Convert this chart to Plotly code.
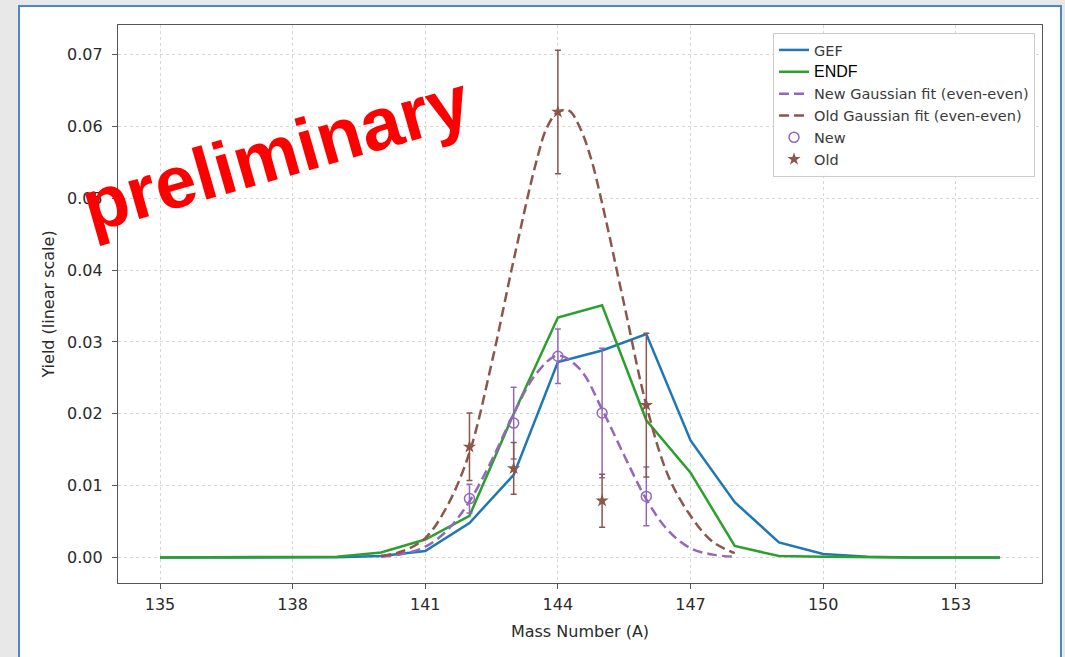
import plotly.graph_objects as go

# ---------------- data ----------------
mass = [135, 136, 137, 138, 139, 140, 141, 142, 143, 144,
        145, 146, 147, 148, 149, 150, 151, 152, 153, 154]
gef = [0, 0, 0, 0, 0.00002, 0.0002, 0.0009, 0.0048, 0.0115, 0.0272,
       0.0288, 0.0311, 0.0163, 0.0077, 0.0021, 0.0005, 0.0001, 0, 0, 0]
endf = [0, 0, 0, 0, 0.0001, 0.0007, 0.0025, 0.0058, 0.0200, 0.0334,
        0.0351, 0.0191, 0.0118, 0.0016, 0.0002, 0.0001, 0, 0, 0, 0]

new_fit_x = [140, 140.5, 141, 141.5, 142, 142.5, 143, 143.5, 144,
             144.5, 145, 145.5, 146, 146.5, 147, 147.5, 148]
new_fit = [0.0001, 0.0005, 0.0015, 0.0038, 0.0078, 0.0135, 0.0200, 0.0255, 0.0281,
           0.0262, 0.0206, 0.0142, 0.0081, 0.0037, 0.0013, 0.0004, 0.0001]
old_fit_x = [140, 140.5, 141, 141.5, 142, 142.5, 143, 143.5, 143.75, 144, 144.25,
             144.5, 144.75, 145, 145.5, 146, 146.5, 147, 147.5, 148]
old_fit = [0.0002, 0.0009, 0.0027, 0.0072, 0.0146, 0.0270, 0.0414, 0.0548, 0.0598, 0.0620, 0.0622,
           0.0598, 0.0555, 0.0493, 0.0352, 0.0212, 0.0113, 0.0058, 0.0022, 0.0006]

pts_x = [142, 143, 144, 145, 146]
new_y = [0.0082, 0.0187, 0.0280, 0.0201, 0.0085]
new_err = [0.0020, 0.0050, 0.0038, 0.0090, 0.0041]
old_y = [0.0154, 0.0124, 0.0620, 0.0079, 0.0212]
old_err = [0.0047, 0.0036, 0.0086, 0.0037, 0.0100]

x_ticks = [135, 138, 141, 144, 147, 150, 153]
y_ticks = [0.00, 0.01, 0.02, 0.03, 0.04, 0.05, 0.06, 0.07]

# ---------------- figure ----------------
W, H = 1065, 657
ML, MR, MT, MB = 118, 23, 25, 74
PW, PH = W - ML - MR, H - MT - MB


def px_x(p):
    return (p - ML) / PW


def px_y(p):
    return (H - MB - p) / PH


BLUE, GREEN, PURPLE, BROWN = "#1f77b4", "#2ca02c", "#9467bd", "#8c564b"

fig = go.Figure()
fig.add_trace(go.Scatter(x=mass, y=gef, mode="lines", name="GEF",
                         line=dict(color=BLUE, width=2.5)))
fig.add_trace(go.Scatter(x=mass, y=endf, mode="lines",
                         name="<span style='font-family:Liberation Sans;font-size:16px;color:#000000'>ENDF</span>",
                         line=dict(color=GREEN, width=2.5)))
fig.add_trace(go.Scatter(x=new_fit_x, y=new_fit, mode="lines", name="New Gaussian fit (even-even)",
                         line=dict(color=PURPLE, width=2.5, dash="10px,5px", shape="spline")))
fig.add_trace(go.Scatter(x=old_fit_x, y=old_fit, mode="lines", name="Old Gaussian fit (even-even)",
                         line=dict(color=BROWN, width=2.5, dash="10px,5px", shape="spline")))
fig.add_trace(go.Scatter(x=pts_x, y=new_y, mode="markers", name="New",
                         marker=dict(symbol="circle-open", size=10, color=PURPLE,
                                     line=dict(width=1.5, color=PURPLE)),
                         error_y=dict(type="data", array=new_err, color=PURPLE,
                                      thickness=1.5, width=3)))
fig.add_trace(go.Scatter(x=pts_x, y=old_y, mode="markers", name="Old",
                         marker=dict(symbol="star", size=10, color=BROWN),
                         error_y=dict(type="data", array=old_err, color=BROWN,
                                      thickness=1.5, width=3)))

axis_common = dict(
    showline=True, mirror=True, linecolor="#555555", linewidth=1.3,
    ticks="outside", ticklen=5, tickcolor="#555555", tickwidth=1.2,
    showgrid=True, gridcolor="rgba(0,0,0,0.16)", griddash="dot", gridwidth=1,
    zeroline=False,
    tickfont=dict(family="DejaVu Sans", size=16, color="#2a2a2a"),
)

fig.update_xaxes(range=[134.05, 154.95], tickvals=x_ticks, ticklabelstandoff=2,
                 title=dict(text="Mass Number (A)",
                            font=dict(family="DejaVu Sans", size=16, color="#2a2a2a"),
                            standoff=12),
                 **axis_common)
fig.update_yaxes(range=[-0.00355, 0.0741], tickvals=y_ticks, tickformat=".2f",
                 ticklabelstandoff=6,
                 title=dict(text="Yield (linear scale)",
                            font=dict(family="DejaVu Sans", size=16, color="#2a2a2a"),
                            standoff=8),
                 **axis_common)

fig.update_layout(
    width=W, height=H,
    margin=dict(l=ML, r=MR, t=MT, b=MB, autoexpand=False),
    paper_bgcolor="#e8e8e8",
    plot_bgcolor="white",
    showlegend=True,
    legend=dict(x=px_x(1035), y=px_y(33), xanchor="right", yanchor="top",
                bgcolor="white", bordercolor="#cccccc", borderwidth=1,
                font=dict(family="DejaVu Sans", size=14.5, color="#3a3a3a"),
                itemwidth=30, tracegroupgap=0),
    shapes=[dict(type="rect", xref="paper", yref="paper",
                 x0=px_x(19), x1=px_x(1061), y0=px_y(665), y1=px_y(6),
                 fillcolor="white", line=dict(color="#4f86c6", width=2),
                 layer="below")],
    annotations=[dict(text="<b>preliminary</b>", xref="paper", yref="paper",
                      x=px_x(275), y=px_y(153), xanchor="center", yanchor="middle",
                      showarrow=False, textangle=-16,
                      font=dict(family="Liberation Sans", size=74, color="#ff0000"))],
)

fig.write_html("out.html")
